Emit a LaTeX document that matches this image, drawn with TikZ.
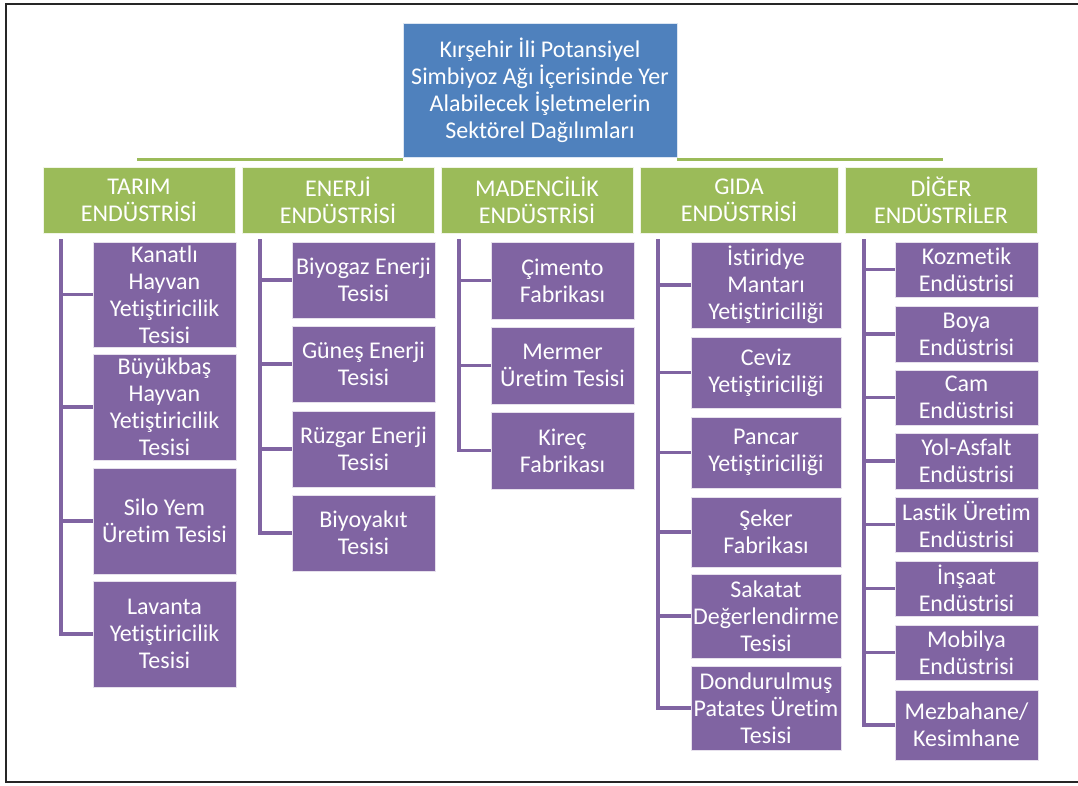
\documentclass[tikz,border=0pt]{standalone}
\usepackage{fontspec}
\setmainfont{Carlito}[Ligatures=NoCommon]
\definecolor{rootblue}{HTML}{4F81BD}
\definecolor{hdrgreen}{HTML}{9BBB59}
\definecolor{itempurple}{HTML}{8064A2}
\tikzset{
  basebox/.style={text=white, align=center, inner sep=0pt, font=\fontsize{24}{27}\selectfont},
  rootbox/.style={basebox, fill=rootblue, draw=white!80!rootblue, line width=0.8pt},
  hdrbox/.style={basebox, fill=hdrgreen, draw=white!85!hdrgreen, line width=0.8pt},
  itembox/.style={basebox, fill=itempurple, draw=white!80!itempurple, line width=0.8pt},
  greenline/.style={draw=hdrgreen, line width=3pt},
  purpleline/.style={draw=itempurple, line width=3.5pt},
  frameline/.style={draw=black!85, line width=2.8pt}
}
\newcommand\bx[7]{\node[#1, minimum width={(#4-#2)*1pt}, minimum height={(#5-#3)*1pt}] (#6) at ({(#2+#4)/2},{(#3+#5)/2}) {#7};}
\begin{document}
\begin{tikzpicture}[x=1pt,y=-1pt]
\useasboundingbox (0,0) rectangle (1078,785);
% frame
\coordinate (ftr) at (1078,4);
\coordinate (ftl) at (6,4);
\coordinate (fbl) at (6,782);
\coordinate (fbr) at (1078,782);
\draw[frameline] (ftr) -- (ftl) -- (fbl) -- (fbr);
% root
\bx{rootbox}{403}{23}{677}{157}{root}{Kırşehir İli Potansiyel\\Simbiyoz Ağı İçerisinde Yer\\Alabilecek İşletmelerin\\Sektörel Dağılımları}
\coordinate (gl) at (137,159);
\coordinate (gr) at (943,159);
\draw[greenline] (gl) -- (root.south west |- gl);
\draw[greenline] (root.south east |- gr) -- (gr);
% headers
\bx{hdrbox}{43}{167}{235}{233}{h1}{TARIM\\ENDÜSTRİSİ}
\bx{hdrbox}{242}{167}{434}{233}{h2}{ENERJİ\\ENDÜSTRİSİ}
\bx{hdrbox}{441}{167}{633}{233}{h3}{MADENCİLİK\\ENDÜSTRİSİ}
\bx{hdrbox}{640}{167}{838}{233}{h4}{GIDA\\ENDÜSTRİSİ}
\bx{hdrbox}{845}{167}{1037}{233}{h5}{DİĞER\\ENDÜSTRİLER}
% TARIM
\bx{itembox}{93}{242}{236}{347}{a1}{Kanatlı\\Hayvan\\Yetiştiricilik\\Tesisi}
\bx{itembox}{93}{354}{236}{460}{a2}{Büyükbaş\\Hayvan\\Yetiştiricilik\\Tesisi}
\bx{itembox}{93}{468}{236}{574}{a3}{Silo Yem\\Üretim Tesisi}
\bx{itembox}{93}{581}{236}{687}{a4}{Lavanta\\Yetiştiricilik\\Tesisi}
\coordinate (ta) at (61,239);
\foreach \n in {a1,a2,a3,a4} \draw[purpleline] (ta) |- (\n.west);
% ENERJI
\bx{itembox}{292}{242}{435}{318}{b1}{Biyogaz Enerji\\Tesisi}
\bx{itembox}{292}{326}{435}{402}{b2}{Güneş Enerji\\Tesisi}
\bx{itembox}{292}{411}{435}{487}{b3}{Rüzgar Enerji\\Tesisi}
\bx{itembox}{292}{495}{435}{571}{b4}{Biyoyakıt\\Tesisi}
\coordinate (tb) at (260,239);
\foreach \n in {b1,b2,b3,b4} \draw[purpleline] (tb) |- (\n.west);
% MADENCILIK
\bx{itembox}{491}{242}{634}{319}{c1}{Çimento\\Fabrikası}
\bx{itembox}{491}{327}{634}{404}{c2}{Mermer\\Üretim Tesisi}
\bx{itembox}{491}{412}{634}{489}{c3}{Kireç\\Fabrikası}
\coordinate (tc) at (459,239);
\foreach \n in {c1,c2,c3} \draw[purpleline] (tc) |- (\n.west);
% GIDA
\bx{itembox}{691}{242}{841}{328}{d1}{İstiridye\\Mantarı\\Yetiştiriciliği}
\bx{itembox}{691}{337}{841}{408}{d2}{Ceviz\\Yetiştiriciliği}
\bx{itembox}{691}{417}{841}{488}{d3}{Pancar\\Yetiştiriciliği}
\bx{itembox}{691}{497}{841}{567}{d4}{Şeker\\Fabrikası}
\bx{itembox}{691}{574}{841}{658}{d5}{Sakatat\\Değerlendirme\\Tesisi}
\bx{itembox}{691}{666}{841}{750}{d6}{Dondurulmuş\\Patates Üretim\\Tesisi}
\coordinate (td) at (658,239);
\foreach \n in {d1,d2,d3,d4,d5,d6} \draw[purpleline] (td) |- (\n.west);
% DIGER
\bx{itembox}{895}{242}{1038}{297}{e1}{Kozmetik\\Endüstrisi}
\bx{itembox}{895}{306}{1038}{362}{e2}{Boya\\Endüstrisi}
\bx{itembox}{895}{370}{1038}{425}{e3}{Cam\\Endüstrisi}
\bx{itembox}{895}{433}{1038}{489}{e4}{Yol-Asfalt\\Endüstrisi}
\bx{itembox}{895}{497}{1038}{552}{e5}{Lastik Üretim\\Endüstrisi}
\bx{itembox}{895}{561}{1038}{616}{e6}{İnşaat\\Endüstrisi}
\bx{itembox}{895}{625}{1038}{680}{e7}{Mobilya\\Endüstrisi}
\bx{itembox}{895}{690}{1038}{760}{e8}{Mezbahane/\\Kesimhane}
\coordinate (te) at (864,239);
\foreach \n in {e1,e2,e3,e4,e5,e6,e7,e8} \draw[purpleline] (te) |- (\n.west);
\end{tikzpicture}
\end{document}
